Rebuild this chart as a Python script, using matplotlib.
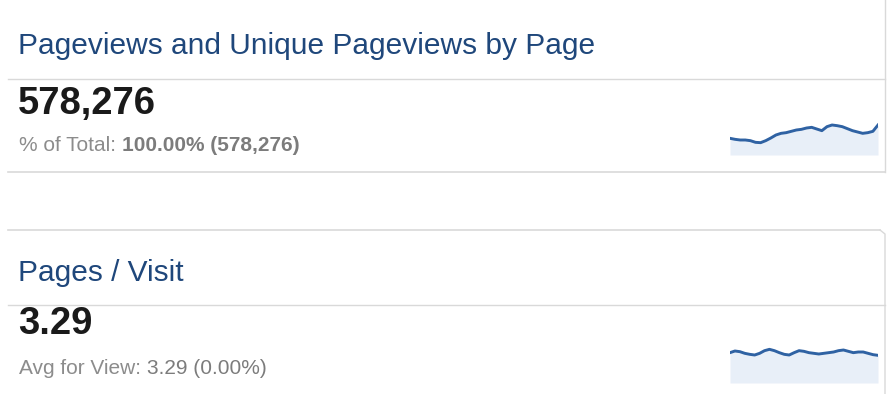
import matplotlib
matplotlib.use("Agg")
import matplotlib.pyplot as plt

plt.rcParams['font.family'] = ['Liberation Sans', 'DejaVu Sans']

W, H = 895, 394

# daily pageviews over the period
pageviews_daily = [18650, 18560, 18500, 18500, 18440, 18290, 18260, 18440, 18680, 18950,
                   19100, 19160, 19280, 19400, 19460, 19580, 19640, 19490, 19340, 19700,
                   19850, 19790, 19700, 19520, 19340, 19220, 19100, 19160, 19280, 19850]
# daily pages per visit
pages_visit_daily = [3.286, 3.306, 3.298, 3.278, 3.266, 3.258, 3.278, 3.310, 3.326, 3.310,
                     3.286, 3.266, 3.258, 3.286, 3.310, 3.302, 3.286, 3.278, 3.270, 3.278,
                     3.286, 3.294, 3.310, 3.318, 3.302, 3.286, 3.294, 3.294, 3.278, 3.262,
                     3.254]

titles = ["Pageviews and Unique Pageviews by Page", "Pages / Visit"]
totals = ["578,276", "3.29"]
sub_labels = ["% of Total: ", "Avg for View: "]
sub_values = ["100.00% (578,276)", "3.29 (0.00%)"]

TITLE_C = "#1f477b"
LINE_C = "#2f62a3"
FILL_C = "#e8eff8"
RULE_C = "#d9d9d9"

fig = plt.figure(figsize=(W / 100, H / 100), dpi=100)
ax = fig.add_axes([0, 0, 1, 1])
ax.set_xlim(0, W)
ax.set_ylim(H, 0)
ax.axis("off")


def px_axes(x0, y0, x1, y1):
    return fig.add_axes([x0 / W, 1 - y1 / H, (x1 - x0) / W, (y1 - y0) / H])


def sparkline(rect, values, ylim):
    sa = px_axes(*rect)
    xs = list(range(len(values)))
    sa.fill_between(xs, values, ylim[0], color=FILL_C, lw=0)
    sa.plot(xs, values, color=LINE_C, lw=2.1, solid_joinstyle="round")
    sa.set_xlim(0, len(values) - 1)
    sa.set_ylim(*ylim)
    sa.axis("off")


# panel outlines
ax.plot([8, 885], [79, 79], color=RULE_C, lw=1)
ax.plot([8, 885], [172, 172], color=RULE_C, lw=1.2)
ax.plot([885, 885], [0, 172], color=RULE_C, lw=1)
ax.plot([8, 880], [230, 230], color=RULE_C, lw=1.2)
ax.plot([880, 885, 885], [230, 234, H], color=RULE_C, lw=1)
ax.plot([8, 885], [305, 305], color=RULE_C, lw=1)

title_y = [54, 281]
total_y = [114, 334]
sub_y = [151, 374]
for i in range(2):
    ax.text(18, title_y[i], titles[i], color=TITLE_C, fontsize=21.5,
            va="baseline", ha="left")
    ax.text(18, total_y[i], totals[i], color="#1a1a1a", fontsize=27.5,
            fontweight="bold", va="baseline", ha="left")
    lab = ax.text(19, sub_y[i], sub_labels[i], color="#8c8c8c", fontsize=15,
                  va="baseline", ha="left")
    ax.annotate(sub_values[i], xy=(1, 0), xycoords=lab, color="#7c7c7c",
                fontsize=15, fontweight="bold" if i == 0 else "normal",
                va="bottom", ha="left")

sparkline((730, 118, 878, 155), pageviews_daily, (17150, 20480))
sparkline((730, 343, 878, 383), pages_visit_daily, (2.922, 3.402))

fig.savefig("out.png", dpi=100)
